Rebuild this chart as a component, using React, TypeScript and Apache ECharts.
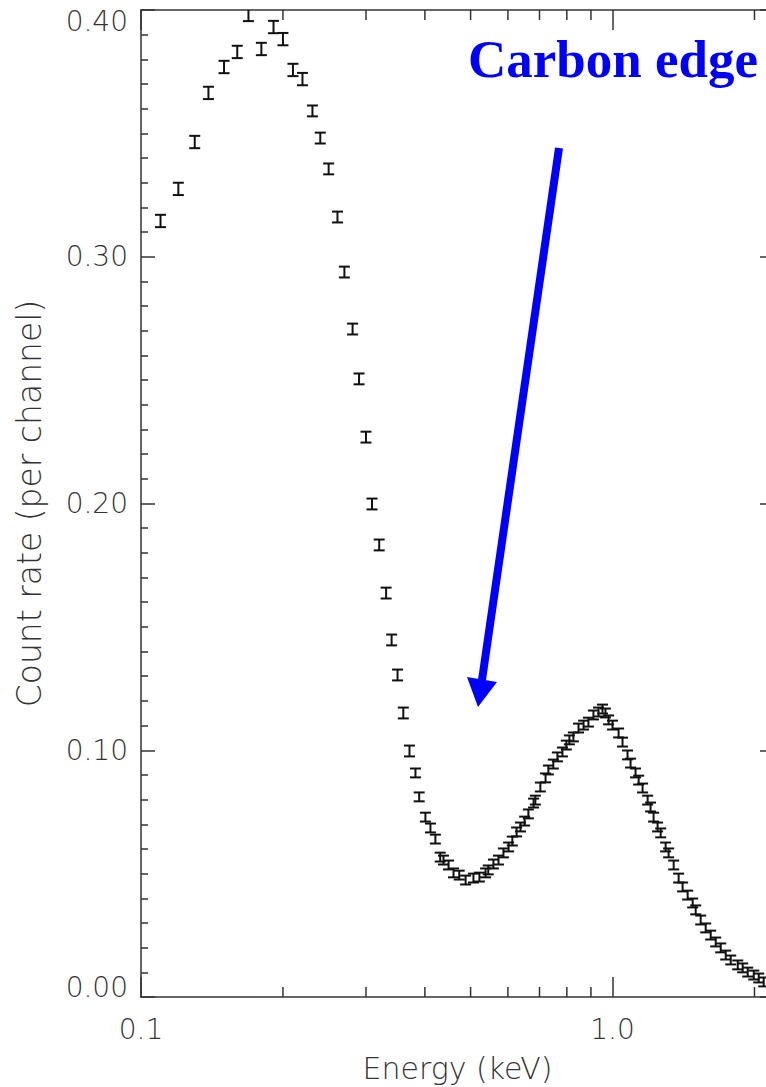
import React, { useEffect, useRef } from "react";
import * as echarts from "echarts";

// Energy (keV) of each spectral channel
const energy = [
  0.110, 0.120, 0.130, 0.139, 0.150, 0.160, 0.169, 0.180, 0.191, 0.200,
  0.210, 0.220, 0.231, 0.240, 0.250, 0.261, 0.270, 0.281, 0.290, 0.300,
  0.309, 0.320, 0.331, 0.340, 0.350, 0.360, 0.371, 0.382, 0.389, 0.401,
  0.411, 0.421, 0.431, 0.438, 0.449, 0.460, 0.473, 0.488, 0.507, 0.522,
  0.538, 0.545, 0.559, 0.573, 0.587, 0.602, 0.613, 0.626, 0.638, 0.651,
  0.663, 0.680, 0.686, 0.703, 0.721, 0.731, 0.749, 0.764, 0.783, 0.798,
  0.810, 0.826, 0.847, 0.868, 0.889, 0.911, 0.934, 0.952, 0.966, 0.981,
  1.000, 1.030, 1.050, 1.076, 1.092, 1.119, 1.136, 1.158, 1.187, 1.204,
  1.222, 1.246, 1.265, 1.296, 1.315, 1.348, 1.381, 1.408, 1.443, 1.479,
  1.501, 1.538, 1.576, 1.615, 1.655, 1.696, 1.738, 1.781, 1.843, 1.888,
  1.935, 1.993, 2.042, 2.092,
];

// Count rate (per channel)
const rate = [
  0.3145, 0.3275, 0.3465, 0.3664, 0.3769, 0.3830, 0.3980, 0.3842, 0.3931, 0.3882,
  0.3757, 0.3720, 0.3591, 0.3481, 0.3356, 0.3161, 0.2938, 0.2707, 0.2505, 0.2269,
  0.1998, 0.1832, 0.1637, 0.1447, 0.1305, 0.1151, 0.0997, 0.0908, 0.0811, 0.0729,
  0.0685, 0.0640, 0.0567, 0.0555, 0.0535, 0.0503, 0.0494, 0.0474, 0.0482, 0.0486,
  0.0503, 0.0515, 0.0539, 0.0555, 0.0584, 0.0608, 0.0632, 0.0669, 0.0689, 0.0713,
  0.0742, 0.0786, 0.0798, 0.0851, 0.0888, 0.0920, 0.0944, 0.0973, 0.0993, 0.1021,
  0.1042, 0.1054, 0.1090, 0.1102, 0.1114, 0.1143, 0.1155, 0.1167, 0.1151, 0.1123,
  0.1102, 0.1070, 0.1033, 0.0981, 0.0948, 0.0908, 0.0879, 0.0847, 0.0798, 0.0770,
  0.0729, 0.0689, 0.0665, 0.0608, 0.0584, 0.0535, 0.0482, 0.0446, 0.0413, 0.0381,
  0.0353, 0.0312, 0.0280, 0.0251, 0.0223, 0.0199, 0.0170, 0.0150, 0.0130, 0.0118,
  0.0101, 0.0089, 0.0077, 0.0061,
];

// 1-sigma error on the count rate
const rateErr = [
  0.0025, 0.0025, 0.0025, 0.0025, 0.0025, 0.0025, 0.0025, 0.0025, 0.0025, 0.0025,
  0.0025, 0.0025, 0.0022, 0.0022, 0.0022, 0.0022, 0.0022, 0.0022, 0.0022, 0.0022,
  0.0022, 0.0022, 0.0022, 0.0022, 0.0022, 0.0022, 0.0022, 0.0018, 0.0018, 0.0018,
  0.0018, 0.0018, 0.0018, 0.0018, 0.0018, 0.0018, 0.0018, 0.0018, 0.0018, 0.0018,
  0.0018, 0.0018, 0.0018, 0.0018, 0.0018, 0.0018, 0.0018, 0.0018, 0.0018, 0.0018,
  0.0018, 0.0018, 0.0018, 0.0018, 0.0018, 0.0018, 0.0018, 0.0018, 0.0018, 0.0018,
  0.0018, 0.0018, 0.0018, 0.0018, 0.0018, 0.0018, 0.0018, 0.0018, 0.0018, 0.0018,
  0.0018, 0.0018, 0.0018, 0.0018, 0.0018, 0.0018, 0.0018, 0.0018, 0.0018, 0.0018,
  0.0018, 0.0018, 0.0018, 0.0018, 0.0018, 0.0018, 0.0018, 0.0018, 0.0018, 0.0018,
  0.0018, 0.0018, 0.0018, 0.0018, 0.0018, 0.0018, 0.0018, 0.0018, 0.0018, 0.0018,
  0.0018, 0.0018, 0.0018, 0.0018,
];

// minor ticks of the logarithmic energy axis
const xMinorTicks = [0.2, 0.3, 0.4, 0.5, 0.6, 0.7, 0.8, 0.9, 2.0];

const xTitle = "Energy (keV)";
const yTitle = "Count rate (per channel)";
const annotation = "Carbon edge";

const AXIS = "#333333";
const INK = "#111111";
const FONT = "DejaVu Sans";

export default function App() {
  const ref = useRef<HTMLDivElement>(null);

  useEffect(() => {
    if (!ref.current) return;
    const chart = echarts.init(ref.current, null, { renderer: "svg" });

    const points = energy.map((e, i) => [e, rate[i], rateErr[i]]);

    const yAxisBase = {
      type: "value",
      min: 0,
      max: 0.4,
      interval: 0.1,
      splitLine: { show: false },
      axisLine: { show: true, lineStyle: { color: AXIS, width: 1.5 } },
      axisTick: { show: true, inside: true, length: 14, lineStyle: { color: AXIS, width: 1.5 } },
      minorTick: { show: true, splitNumber: 10, length: 7, lineStyle: { color: AXIS, width: 1.5 } },
      minorSplitLine: { show: false },
    };

    const xAxisBase = {
      type: "log",
      logBase: 10,
      min: 0.1,
      max: 2.2,
      splitLine: { show: false },
      minorSplitLine: { show: false },
      axisLine: { show: true, onZero: false, lineStyle: { color: AXIS, width: 1.5 } },
      axisTick: { show: true, inside: true, length: 20, lineStyle: { color: AXIS, width: 1.5 } },
    };

    chart.setOption({
      animation: false,
      backgroundColor: "#ffffff",
      grid: {
        left: 141,
        right: -8,
        top: 10,
        bottom: 90,
        containLabel: false,
        outerBoundsMode: "none",
      },
      xAxis: [
        {
          ...xAxisBase,
          position: "bottom",
          name: xTitle,
          nameLocation: "middle",
          nameGap: 56,
          nameTextStyle: { color: AXIS, fontSize: 30, fontFamily: FONT, fontWeight: 200 },
          axisLabel: {
            show: true,
            margin: 18,
            showMaxLabel: false,
            color: AXIS,
            fontSize: 28,
            fontFamily: FONT,
            fontWeight: 200,
            formatter: (v: number) => (v > 1.5 ? "" : Number(v).toFixed(1)),
          },
        },
        { ...xAxisBase, position: "top", axisLabel: { show: false } },
      ],
      yAxis: [
        {
          ...yAxisBase,
          position: "left",
          name: yTitle,
          nameLocation: "middle",
          nameGap: 95,
          nameRotate: 90,
          nameTextStyle: { color: AXIS, fontSize: 33, fontFamily: FONT, fontWeight: 200 },
          axisLabel: {
            show: true,
            margin: 13,
            color: AXIS,
            fontSize: 28,
            fontFamily: FONT,
            fontWeight: 200,
            formatter: (v: number) => {
              if (Math.abs(v - 0.4) < 1e-9) return "{mx|0.40}";
              if (Math.abs(v) < 1e-9) return "{mn|0.00}";
              return Number(v).toFixed(2);
            },
            rich: {
              mx: { padding: [22, 0, 0, 0], color: AXIS, fontSize: 28, fontFamily: FONT, fontWeight: 200 },
              mn: { padding: [0, 0, 20, 0], color: AXIS, fontSize: 28, fontFamily: FONT, fontWeight: 200 },
            },
          },
        },
        { ...yAxisBase, position: "right", axisLabel: { show: false } },
      ],
      series: [
        {
          type: "custom",
          name: "minorTicks",
          xAxisIndex: 0,
          yAxisIndex: 0,
          silent: true,
          clip: false,
          data: xMinorTicks.map((v) => [v, 0]),
          renderItem: (params: any, api: any) => {
            const p = api.coord([api.value(0), 0]);
            const cs = params.coordSys;
            const style = { stroke: AXIS, lineWidth: 1.5 };
            return {
              type: "group",
              children: [
                { type: "line", shape: { x1: p[0], y1: cs.y + cs.height, x2: p[0], y2: cs.y + cs.height - 10 }, style },
                { type: "line", shape: { x1: p[0], y1: cs.y, x2: p[0], y2: cs.y + 10 }, style },
              ],
            };
          },
        },
        {
          type: "custom",
          name: "spectrum",
          xAxisIndex: 0,
          yAxisIndex: 0,
          silent: true,
          clip: true,
          data: points,
          renderItem: (params: any, api: any) => {
            const x = api.value(0);
            const y = api.value(1);
            const e = api.value(2);
            const hi = api.coord([x, y + e]);
            const lo = api.coord([x, y - e]);
            const half = 5.5;
            const style = { stroke: INK, lineWidth: 2 };
            return {
              type: "group",
              children: [
                { type: "line", shape: { x1: hi[0], y1: hi[1], x2: lo[0], y2: lo[1] }, style },
                { type: "line", shape: { x1: hi[0] - half, y1: hi[1], x2: hi[0] + half, y2: hi[1] }, style },
                { type: "line", shape: { x1: lo[0] - half, y1: lo[1], x2: lo[0] + half, y2: lo[1] }, style },
              ],
            };
          },
        },
      ],
      graphic: [
        {
          type: "text",
          x: 468,
          y: 59,
          style: {
            text: annotation,
            fill: "#0000ff",
            font: "bold 53px 'Liberation Serif', 'Times New Roman', serif",
            textAlign: "left",
            textVerticalAlign: "middle",
          },
        },
        {
          type: "line",
          shape: { x1: 559, y1: 148, x2: 482, y2: 680 },
          style: { stroke: "#0000ff", lineWidth: 8 },
        },
        {
          type: "polygon",
          shape: { points: [[467, 677], [497, 682], [478, 707]] },
          style: { fill: "#0000ff" },
        },
      ],
    });

    return () => chart.dispose();
  }, []);

  return (
    <div
      ref={ref}
      style={{ position: "absolute", left: 0, top: 0, width: 766, height: 1087, overflow: "hidden" }}
    />
  );
}
